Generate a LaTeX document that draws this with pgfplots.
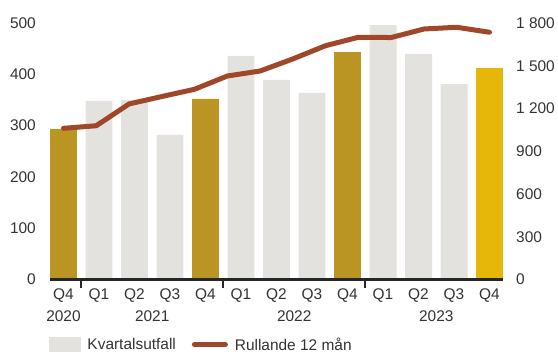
\documentclass[border=0pt]{standalone}
\usepackage{pgfplots}
\pgfplotsset{compat=1.18}
\usepackage{fontspec}
\setmainfont{Liberation Sans}
\definecolor{barGray}{HTML}{E4E2DF}
\definecolor{barGold}{HTML}{BA9523}
\definecolor{barYellow}{HTML}{E6B708}
\definecolor{lineRust}{HTML}{A0472A}
\definecolor{txt}{HTML}{333333}
\definecolor{axisc}{HTML}{262626}
\begin{document}
\begin{tikzpicture}
\path[use as bounding box] (-50bp,-72.5bp) rectangle (508bp,279.5bp);
\pgfplotsset{
  common/.style={
    scale only axis, width=453bp, height=256.5bp,
    xmin=-0.38, xmax=12.38,
    at={(0,0)}, anchor=south west,
    /pgf/number format/assume math mode=true,
    tick label style={font=\fontsize{15.5}{18}\selectfont, text=txt},
  }
}
\begin{axis}[common,
  axis on top, clip=false,
  ymin=0, ymax=500,
  axis x line*=bottom, axis y line*=left,
  x axis line style={draw=axisc, line width=2bp, -},
  y axis line style={draw=none},
  ytick={0,100,...,500},
  yticklabel style={anchor=east, inner sep=0pt, xshift=-14bp},
  ytick style={draw=none},
  xtick={0,...,12},
  xticklabels={Q4,Q1,Q2,Q3,Q4,Q1,Q2,Q3,Q4,Q1,Q2,Q3,Q4},
  xticklabel style={anchor=base, inner sep=0pt, yshift=-20bp},
  major tick length=0pt,
]
\addplot[ybar, bar width=0.76, bar shift=0pt, fill=barGray, draw=none] coordinates {
  (1,348) (2,350) (3,282) (5,436) (6,389) (7,364) (9,496) (10,440) (11,381)};
\addplot[ybar, bar width=0.76, bar shift=0pt, fill=barGold, draw=none] coordinates {
  (0,293) (4,352) (8,443)};
\addplot[ybar, bar width=0.76, bar shift=0pt, fill=barYellow, draw=none] coordinates {
  (12,412)};
\draw[axisc, line width=2bp] (axis cs:0.5,0) -- ++(0bp,-8bp);
\draw[axisc, line width=2bp] (axis cs:4.5,0) -- ++(0bp,-8bp);
\draw[axisc, line width=2bp] (axis cs:8.5,0) -- ++(0bp,-8bp);
\begin{scope}[every node/.style={anchor=base, inner sep=0pt, text=txt,
    font=\fontsize{15.5}{18}\selectfont, yshift=-42bp}]
\node at (axis cs:0,0) {2020};
\node at (axis cs:2.5,0) {2021};
\node at (axis cs:6.5,0) {2022};
\node at (axis cs:10.5,0) {2023};
\end{scope}
\end{axis}
\begin{axis}[common,
  ymin=0, ymax=1800,
  axis x line=none, axis y line*=right,
  y axis line style={draw=none},
  ytick={0,300,...,1800},
  yticklabels={0,300,600,900,1 200,1 500,1 800},
  yticklabel style={anchor=west, inner sep=0pt, xshift=13bp},
  major tick length=0pt, ytick style={draw=none},
  legend columns=2,
  legend style={draw=none, fill=none, inner sep=0pt, outer sep=0pt,
    at={(-0.002,-0.226)}, anchor=north west,
    font=\fontsize{15.5}{18}\selectfont, text=txt,
    nodes={inner sep=0pt},
    /tikz/every odd column/.append style={column sep=7bp},
    /tikz/every even column/.append style={column sep=16bp}},
]
\addlegendimage{legend image code/.code={\fill[barGray] (0bp,-7bp) rectangle (31bp,7bp);}}
\addlegendentry{Kvartalsutfall}
\addplot[lineRust, line width=5bp, line cap=round, line join=round,
  legend image code/.code={\draw[lineRust, line width=5bp] (0bp,0bp) -- (31bp,0bp);}] coordinates {
  (0,1061) (0.923,1079) (1.846,1232) (2.769,1284) (3.692,1335) (4.615,1428) (5.538,1463)
  (6.462,1548) (7.385,1641) (8.308,1700) (9.231,1698) (10.154,1758) (11.077,1770) (12,1735)};
\addlegendentry{Rullande 12 mån}
\end{axis}
\end{tikzpicture}
\end{document}
